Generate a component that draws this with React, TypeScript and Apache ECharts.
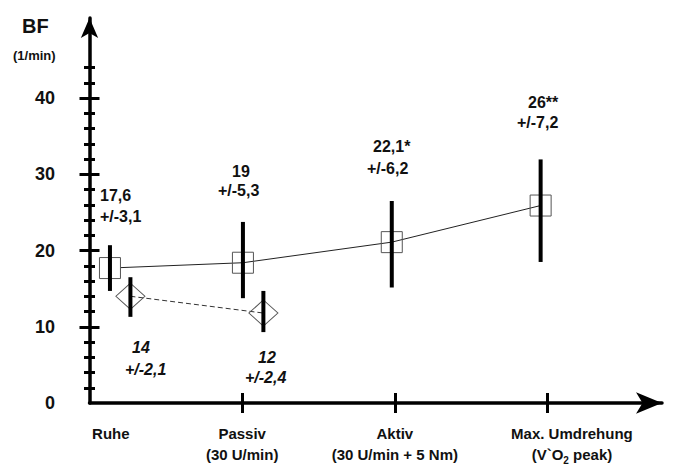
import React, { useEffect, useRef } from "react";
import * as echarts from "echarts";

// ---- data ----
const categories = ["Ruhe", "Passiv\n(30 U/min)", "Aktiv\n(30 U/min + 5 Nm)", "Max. Umdrehung\n(V`O{sub|2} peak)"];
const categoryLabelX = [0.14, 1.0, 2.0, 3.16];
const categoryTickX = [1, 2, 3];

// group A (squares, solid line)
const aX = [0.134, 1.005, 1.98, 2.955];
const aMean = [17.7, 18.4, 21.1, 25.9];
const aLow = [14.7, 13.75, 15.15, 18.5];
const aHigh = [20.7, 23.75, 26.5, 31.95];

// group B (diamonds, dashed line)
const bX = [0.268, 1.139];
const bMean = [14.0, 11.8];
const bLow = [11.3, 9.3];
const bHigh = [16.5, 14.7];

const yLabelValues = [0, 10, 20, 30, 40];
const yMajorTicks = [10, 20, 30, 40];
const yMinorTicks = [2, 4, 6, 8, 12, 14, 16, 18, 22, 24, 26, 28, 32, 34, 36, 38, 42, 44];

const annoTexts = ["17,6", "+/-3,1", "19", "+/-5,3", "22,1*", "+/-6,2", "26**", "+/-7,2", "14", "+/-2,1", "12", "+/-2,4"];
const annoItalic = [false, false, false, false, false, false, false, false, true, true, true, true];

// ---- layout (pixels) ----
const annoPos = [
  [100, 195], [100, 216], [232, 171], [218, 190], [373, 146], [367, 168],
  [528, 102], [517, 122], [132, 347], [125, 369], [258, 357], [245, 377],
];

const FONT = "Liberation Sans";

export default function App() {
  const ref = useRef<HTMLDivElement>(null);
  useEffect(() => {
    document.body.style.margin = "0";
    const chart = echarts.init(ref.current!, null, { renderer: "svg" });
    const grid = { left: 89.5, right: 18, top: 18, bottom: 61 };
    const yBase = { type: "value", min: 0, max: 50.5, position: "left", offset: 0, splitLine: { show: false } };
    const xBase = { type: "value", min: 0, max: 3.75, position: "bottom", offset: 0, splitLine: { show: false } };
    const lineAxis = { show: true, onZero: false, lineStyle: { color: "#000", width: 3.5 } };

    const option: any = {
      animation: false,
      backgroundColor: "#fff",
      grid,
      xAxis: [
        {
          ...xBase,
          axisLine: { ...lineAxis, symbol: ["none", "arrow"], symbolSize: [16, 26] },
          axisTick: { show: true, inside: false, length: 10, customValues: categoryTickX, lineStyle: { color: "#000", width: 3 } },
          axisLabel: {
            show: true,
            customValues: categoryLabelX,
            margin: 20,
            fontFamily: FONT,
            fontWeight: "bold",
            fontSize: 15,
            lineHeight: 21,
            color: "#111",
            formatter: (v: number, i: number) => {
              const idx = categoryLabelX.indexOf(v);
              return categories[idx >= 0 ? idx : i] || "";
            },
            rich: {
              sub: { fontFamily: FONT, fontWeight: "bold", fontSize: 10, color: "#111", verticalAlign: "bottom", lineHeight: 14, padding: [6, 0, 0, 0] },
            },
          },
        },
        {
          ...xBase,
          axisLine: { show: false, onZero: false },
          axisTick: { show: true, inside: true, length: 10, customValues: categoryTickX, lineStyle: { color: "#000", width: 3 } },
          axisLabel: { show: false },
        },
      ],
      yAxis: [
        {
          ...yBase,
          axisLine: { ...lineAxis, symbol: ["none", "arrow"], symbolSize: [13, 20] },
          axisTick: { show: true, inside: false, length: 10, customValues: yMajorTicks, lineStyle: { color: "#000", width: 3 } },
          axisLabel: {
            show: true,
            customValues: yLabelValues,
            margin: 34.5,
            fontFamily: FONT,
            fontWeight: "bold",
            fontSize: 18,
            color: "#111",
            padding: [6, 0, 0, 0],
          },
        },
        {
          ...yBase,
          axisLine: { show: false, onZero: false },
          axisTick: { show: true, inside: true, length: 10, customValues: yMajorTicks, lineStyle: { color: "#000", width: 3 } },
          axisLabel: { show: false },
        },
        {
          ...yBase,
          axisLine: { show: false, onZero: false },
          axisTick: { show: true, inside: false, length: 5.5, customValues: yMinorTicks, lineStyle: { color: "#000", width: 3 } },
          axisLabel: { show: false },
        },
        {
          ...yBase,
          axisLine: { show: false, onZero: false },
          axisTick: { show: true, inside: true, length: 5.5, customValues: yMinorTicks, lineStyle: { color: "#000", width: 3 } },
          axisLabel: { show: false },
        },
      ],
      series: [
        {
          type: "line",
          xAxisIndex: 0,
          yAxisIndex: 0,
          data: aX.map((x, i) => ({
            value: [x, aMean[i]],
            itemStyle: { color: i === 0 ? "#fff" : "rgba(255,255,255,0)", borderColor: "#555", borderWidth: 1 },
          })),
          symbol: "rect",
          symbolSize: 21,
          showAllSymbol: true,
          lineStyle: { color: "#222", width: 1 },
          z: 2,
        },
        {
          type: "line",
          xAxisIndex: 0,
          yAxisIndex: 0,
          data: bX.map((x, i) => ({
            value: [x, bMean[i]],
            itemStyle: { color: "rgba(255,255,255,0)", borderColor: "#555", borderWidth: 1 },
          })),
          symbol: "diamond",
          symbolSize: [29, 26],
          lineStyle: { color: "#333", width: 1, type: [5, 3] },
          z: 2,
        },
        {
          type: "custom",
          xAxisIndex: 0,
          yAxisIndex: 0,
          z: 5,
          data: [
            ...aX.map((x, i) => [x, aLow[i], aHigh[i]]),
            ...bX.map((x, i) => [x, bLow[i], bHigh[i]]),
          ],
          encode: { x: 0, y: [1, 2] },
          renderItem: (params: any, api: any) => {
            const p1 = api.coord([api.value(0), api.value(1)]);
            const p2 = api.coord([api.value(0), api.value(2)]);
            return {
              type: "line",
              shape: { x1: p1[0], y1: p1[1], x2: p2[0], y2: p2[1] },
              style: { stroke: "#000", lineWidth: 4 },
            };
          },
        },
      ],
      graphic: [
        { type: "text", x: 22, y: 26, style: { text: "BF", font: `bold 20px "${FONT}"`, fill: "#111", verticalAlign: "middle", align: "left" } },
        { type: "text", x: 13, y: 55, style: { text: "(1/min)", font: `bold 13px "${FONT}"`, fill: "#111", verticalAlign: "middle", align: "left" } },
        ...annoTexts.map((t, i) => ({
          type: "text",
          x: annoPos[i][0],
          y: annoPos[i][1],
          style: {
            text: t,
            font: `${annoItalic[i] ? "italic " : ""}bold 16px "${FONT}"`,
            fill: "#111",
            align: "left",
            verticalAlign: "middle",
          },
        })),
      ],
    };
    chart.setOption(option);
    return () => chart.dispose();
  }, []);
  return <div ref={ref} style={{ width: 680, height: 465 }} />;
}
